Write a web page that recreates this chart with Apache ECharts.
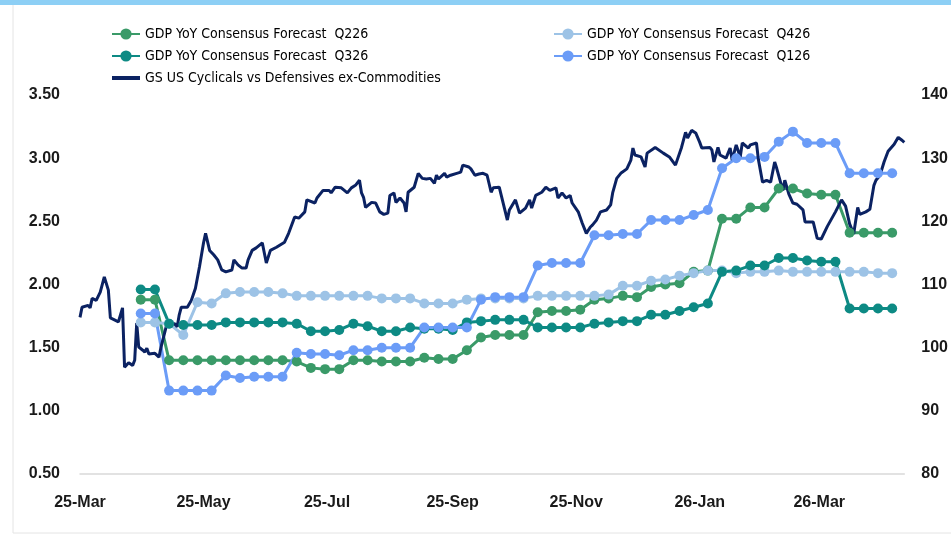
<!DOCTYPE html>
<html>
<head>
<meta charset="utf-8">
<script src="https://cdn.jsdelivr.net/npm/echarts@6/dist/echarts.min.js"></script>
<style>
  html, body { margin: 0; padding: 0; background: #fff; }
  #chart { width: 951px; height: 535px; }
</style>
</head>
<body>
<div id="chart"></div>
<script>
// weekly consensus survey dates
const weeks = [
  '2025-03-31','2025-04-07','2025-04-14','2025-04-21','2025-04-28','2025-05-05','2025-05-12','2025-05-19','2025-05-26',
  '2025-06-02','2025-06-09','2025-06-16','2025-06-23','2025-06-30','2025-07-07','2025-07-14','2025-07-21','2025-07-28',
  '2025-08-04','2025-08-11','2025-08-18','2025-08-25','2025-09-01','2025-09-08','2025-09-15','2025-09-22','2025-09-29',
  '2025-10-06','2025-10-13','2025-10-20','2025-10-27','2025-11-03','2025-11-10','2025-11-17','2025-11-24','2025-12-01',
  '2025-12-08','2025-12-15','2025-12-22','2025-12-29','2026-01-05','2026-01-12','2026-01-19','2026-01-26','2026-02-02',
  '2026-02-09','2026-02-16','2026-02-23','2026-03-02','2026-03-09','2026-03-16','2026-03-23','2026-03-30','2026-04-06'
];

const q226 = [1.88,1.88,1.40,1.40,1.40,1.40,1.40,1.40,1.40,1.40,1.40,1.39,1.34,1.33,1.33,1.40,1.40,1.39,1.39,1.39,
  1.42,1.41,1.41,1.48,1.58,1.60,1.60,1.60,1.78,1.79,1.79,1.80,1.88,1.89,1.91,1.90,1.98,2.00,2.01,2.10,
  2.11,2.52,2.52,2.61,2.61,2.76,2.76,2.72,2.71,2.71,2.41,2.41,2.41,2.41];
const q426 = [1.70,1.70,1.69,1.60,1.86,1.85,1.93,1.94,1.94,1.94,1.93,1.91,1.91,1.91,1.91,1.91,1.91,1.89,1.89,1.89,
  1.85,1.85,1.85,1.88,1.89,1.89,1.89,1.89,1.91,1.91,1.91,1.91,1.91,1.92,1.99,1.99,2.03,2.04,2.07,2.09,
  2.11,2.11,2.09,2.10,2.10,2.11,2.10,2.10,2.10,2.10,2.10,2.10,2.09,2.09];
const q326 = [1.96,1.96,1.69,1.68,1.68,1.68,1.70,1.70,1.70,1.70,1.70,1.69,1.63,1.63,1.64,1.69,1.67,1.63,1.63,1.66,
  1.65,1.65,1.64,1.70,1.71,1.72,1.72,1.72,1.66,1.66,1.66,1.66,1.69,1.70,1.71,1.71,1.76,1.76,1.79,1.82,
  1.85,2.10,2.11,2.15,2.15,2.21,2.21,2.19,2.18,2.18,1.81,1.81,1.81,1.81];
const q126 = [1.77,1.77,1.16,1.16,1.16,1.16,1.28,1.26,1.27,1.27,1.27,1.46,1.45,1.45,1.44,1.48,1.48,1.50,1.50,1.50,
  1.66,1.66,1.66,1.66,1.88,1.90,1.90,1.90,2.15,2.17,2.17,2.17,2.39,2.39,2.40,2.40,2.51,2.51,2.51,2.55,
  2.59,2.92,3.00,3.00,3.01,3.13,3.21,3.12,3.12,3.12,2.88,2.88,2.88,2.88];

// GS US Cyclicals vs Defensives ex-Commodities (right axis)
const gsCycVsDef = [
  ['2025-03-01',104.8],['2025-03-02',106.4],['2025-03-05',106.7],['2025-03-06',106.3],['2025-03-07',107.8],
  ['2025-03-09',107.5],['2025-03-11',108.8],['2025-03-13',111.2],['2025-03-15',109.1],['2025-03-16',104.7],
  ['2025-03-18',104.4],['2025-03-20',104.1],['2025-03-22',106.3],['2025-03-23',96.9],['2025-03-25',97.6],
  ['2025-03-27',97.2],['2025-03-28',98.0],['2025-03-29',103.9],['2025-03-30',100.1],['2025-04-01',99.6],
  ['2025-04-02',99.3],['2025-04-03',99.9],['2025-04-04',99.0],['2025-04-07',99.1],['2025-04-09',98.5],
  ['2025-04-10',100.1],['2025-04-13',103.9],['2025-04-15',103.9],['2025-04-17',103.7],['2025-04-18',103.3],
  ['2025-04-19',105.2],['2025-04-20',106.4],['2025-04-23',106.4],['2025-04-25',107.5],['2025-04-27',109.4],
  ['2025-04-29',112.8],['2025-05-01',116.6],['2025-05-02',118.1],['2025-05-04',115.4],['2025-05-06',114.7],
  ['2025-05-08',113.9],['2025-05-10',112.3],['2025-05-12',112.0],['2025-05-15',112.3],['2025-05-16',113.9],
  ['2025-05-18',113.1],['2025-05-20',112.6],['2025-05-22',112.6],['2025-05-23',113.9],['2025-05-25',115.4],
  ['2025-05-27',115.8],['2025-05-30',116.6],['2025-06-01',113.4],['2025-06-03',115.4],['2025-06-06',115.9],
  ['2025-06-10',116.7],['2025-06-12',118.1],['2025-06-15',120.7],['2025-06-17',120.5],['2025-06-20',121.5],
  ['2025-06-21',123.4],['2025-06-25',122.9],['2025-06-26',123.7],['2025-06-29',124.9],['2025-07-02',124.9],
  ['2025-07-03',124.5],['2025-07-05',125.4],['2025-07-08',125.3],['2025-07-11',124.5],['2025-07-13',125.3],
  ['2025-07-15',125.7],['2025-07-17',126.5],['2025-07-18',124.5],['2025-07-19',123.8],['2025-07-20',122.2],
  ['2025-07-23',123.0],['2025-07-25',122.9],['2025-07-27',121.5],['2025-07-29',121.1],['2025-07-31',121.3],
  ['2025-08-01',124.1],['2025-08-03',124.5],['2025-08-04',123.0],['2025-08-06',123.7],['2025-08-08',122.9],
  ['2025-08-09',121.5],['2025-08-10',124.6],['2025-08-13',125.4],['2025-08-15',127.6],['2025-08-17',126.8],
  ['2025-08-19',126.7],['2025-08-21',126.8],['2025-08-23',126.0],['2025-08-24',127.3],['2025-08-25',126.7],
  ['2025-08-28',127.6],['2025-08-29',127.0],['2025-08-31',127.3],['2025-09-03',127.6],['2025-09-05',127.8],
  ['2025-09-06',128.9],['2025-09-09',128.6],['2025-09-10',128.3],['2025-09-12',127.3],['2025-09-14',127.5],
  ['2025-09-16',127.6],['2025-09-18',127.3],['2025-09-20',124.6],['2025-09-21',125.3],['2025-09-24',125.4],
  ['2025-09-25',124.1],['2025-09-28',120.2],['2025-09-29',121.8],['2025-10-02',123.4],['2025-10-04',121.3],
  ['2025-10-07',122.1],['2025-10-09',123.4],['2025-10-10',122.1],['2025-10-12',124.1],['2025-10-15',124.6],
  ['2025-10-17',125.4],['2025-10-19',124.9],['2025-10-22',125.3],['2025-10-23',123.7],['2025-10-25',124.5],
  ['2025-10-27',123.7],['2025-10-29',124.1],['2025-10-30',122.9],['2025-11-02',121.5],['2025-11-04',119.7],
  ['2025-11-06',118.1],['2025-11-08',119.1],['2025-11-09',119.4],['2025-11-11',120.2],['2025-11-13',121.5],
  ['2025-11-16',121.8],['2025-11-18',122.6],['2025-11-19',124.5],['2025-11-21',126.8],['2025-11-23',127.6],
  ['2025-11-26',128.3],['2025-11-28',129.7],['2025-11-29',131.6],['2025-11-30',130.5],['2025-12-03',130.2],
  ['2025-12-05',128.6],['2025-12-06',130.8],['2025-12-10',131.7],['2025-12-14',130.8],['2025-12-17',130.2],
  ['2025-12-20',128.9],['2025-12-23',131.7],['2025-12-25',134.1],['2025-12-26',133.2],['2025-12-28',134.4],
  ['2025-12-30',134.0],['2026-01-01',132.5],['2026-01-02',131.6],['2026-01-06',131.7],['2026-01-07',131.3],
  ['2026-01-08',129.4],['2026-01-10',131.7],['2026-01-11',130.5],['2026-01-14',130.0],['2026-01-16',131.6],
  ['2026-01-17',129.7],['2026-01-19',132.1],['2026-01-21',130.2],['2026-01-22',132.4],['2026-01-25',131.6],
  ['2026-01-26',132.1],['2026-01-29',132.4],['2026-01-30',129.7],['2026-02-01',126.2],['2026-02-03',126.5],
  ['2026-02-05',126.2],['2026-02-07',129.4],['2026-02-08',128.4],['2026-02-11',124.9],['2026-02-12',126.5],
  ['2026-02-14',124.3],['2026-02-16',122.9],['2026-02-18',122.7],['2026-02-21',121.8],['2026-02-22',119.9],
  ['2026-02-26',119.9],['2026-02-28',117.3],['2026-03-02',117.2],['2026-03-05',119.2],['2026-03-09',121.5],
  ['2026-03-12',123.4],['2026-03-14',122.4],['2026-03-16',119.6],['2026-03-18',118.0],['2026-03-20',122.2],
  ['2026-03-21',121.1],['2026-03-24',121.5],['2026-03-26',121.9],['2026-03-28',125.7],['2026-03-29',126.5],
  ['2026-03-31',127.3],['2026-04-02',129.4],['2026-04-04',131.1],['2026-04-07',132.2],['2026-04-09',133.3],
  ['2026-04-11',132.8],['2026-04-12',132.5]
];

// x-axis label dates (every two months) and range
const xTickDates = ['2025-03-01','2025-05-01','2025-07-01','2025-09-01','2025-11-01','2026-01-01','2026-03-01'];
const xMinDate = '2025-03-01';
const xMaxDate = '2026-04-12';
const monthNames = ['Jan','Feb','Mar','Apr','May','Jun','Jul','Aug','Sep','Oct','Nov','Dec'];

const AXIS_FONT = "'Liberation Sans', Arial, sans-serif";
const LEGEND_FONT = "'DejaVu Sans Condensed', 'Liberation Sans', sans-serif";

function ts(s) {
  const p = s.split('-').map(Number);
  return new Date(p[0], p[1] - 1, p[2]).getTime();
}

function forecast(name, values, color) {
  return {
    name: name,
    type: 'line',
    yAxisIndex: 0,
    data: weeks.map((d, i) => [ts(d), values[i]]),
    symbol: 'circle',
    symbolSize: 10,
    lineStyle: { width: 3, color: color },
    itemStyle: { color: color },
  };
}

const legendCommon = {
  orient: 'vertical',
  top: 22,
  itemWidth: 28,
  itemHeight: 14,
  itemGap: 8,
  textStyle: { fontFamily: LEGEND_FONT, fontSize: 14, color: '#000' },
};

const chart = echarts.init(document.getElementById('chart'), null, { renderer: 'canvas' });

const option = {
  animation: false,
  backgroundColor: '#fff',
  graphic: [
    { type: 'rect', shape: { x: 0, y: 0, width: 951, height: 5 }, style: { fill: '#8dcff5' } },
    { type: 'line', shape: { x1: 13, y1: 5, x2: 13, y2: 533 }, style: { stroke: '#e4e4e4', lineWidth: 1 } },
    { type: 'line', shape: { x1: 13, y1: 533, x2: 951, y2: 533 }, style: { stroke: '#e4e4e4', lineWidth: 1 } },
  ],
  legend: [
    Object.assign({}, legendCommon, {
      left: 106,
      data: [
        'GDP YoY Consensus Forecast  Q226',
        'GDP YoY Consensus Forecast  Q326',
        { name: 'GS US Cyclicals vs Defensives ex-Commodities', icon: 'path://M0,0L28,0L28,4L0,4Z' },
      ],
    }),
    Object.assign({}, legendCommon, {
      left: 548,
      data: ['GDP YoY Consensus Forecast  Q426', 'GDP YoY Consensus Forecast  Q126'],
    }),
  ],
  grid: { left: 80, right: 44, top: 95, bottom: 61 },
  xAxis: {
    type: 'value',
    min: ts(xMinDate),
    max: ts(xMaxDate),
    axisLine: { show: true, lineStyle: { color: '#d9d9d9', width: 1.5 } },
    axisTick: { show: false },
    splitLine: { show: false },
    axisLabel: {
      customValues: xTickDates.map(ts),
      formatter: function (val) {
        const d = new Date(val);
        return String(d.getFullYear()).slice(2) + '-' + monthNames[d.getMonth()];
      },
      margin: 21,
      fontFamily: AXIS_FONT,
      fontSize: 16,
      fontWeight: 'bold',
      color: '#1a1a1a',
    },
  },
  yAxis: [
    {
      type: 'value',
      min: 0.5,
      max: 3.5,
      interval: 0.5,
      axisLine: { show: false },
      axisTick: { show: false },
      splitLine: { show: false },
      axisLabel: {
        formatter: v => v.toFixed(2),
        margin: 20,
        fontFamily: AXIS_FONT,
        fontSize: 16,
        fontWeight: 'bold',
        color: '#1a1a1a',
      },
    },
    {
      type: 'value',
      min: 80,
      max: 140,
      interval: 10,
      position: 'right',
      axisLine: { show: false },
      axisTick: { show: false },
      splitLine: { show: false },
      axisLabel: {
        margin: 17,
        fontFamily: AXIS_FONT,
        fontSize: 16,
        fontWeight: 'bold',
        color: '#1a1a1a',
      },
    },
  ],
  series: [
    forecast('GDP YoY Consensus Forecast  Q226', q226, '#3a9a68'),
    forecast('GDP YoY Consensus Forecast  Q426', q426, '#9dc3e6'),
    forecast('GDP YoY Consensus Forecast  Q326', q326, '#0d8a84'),
    forecast('GDP YoY Consensus Forecast  Q126', q126, '#6b9cf7'),
    {
      name: 'GS US Cyclicals vs Defensives ex-Commodities',
      type: 'line',
      yAxisIndex: 1,
      data: gsCycVsDef.map(p => [ts(p[0]), p[1]]),
      symbol: 'none',
      lineStyle: { width: 3, color: '#0b2262' },
      itemStyle: { color: '#0b2262' },
    },
  ],
};

chart.setOption(option);
</script>
</body>
</html>
